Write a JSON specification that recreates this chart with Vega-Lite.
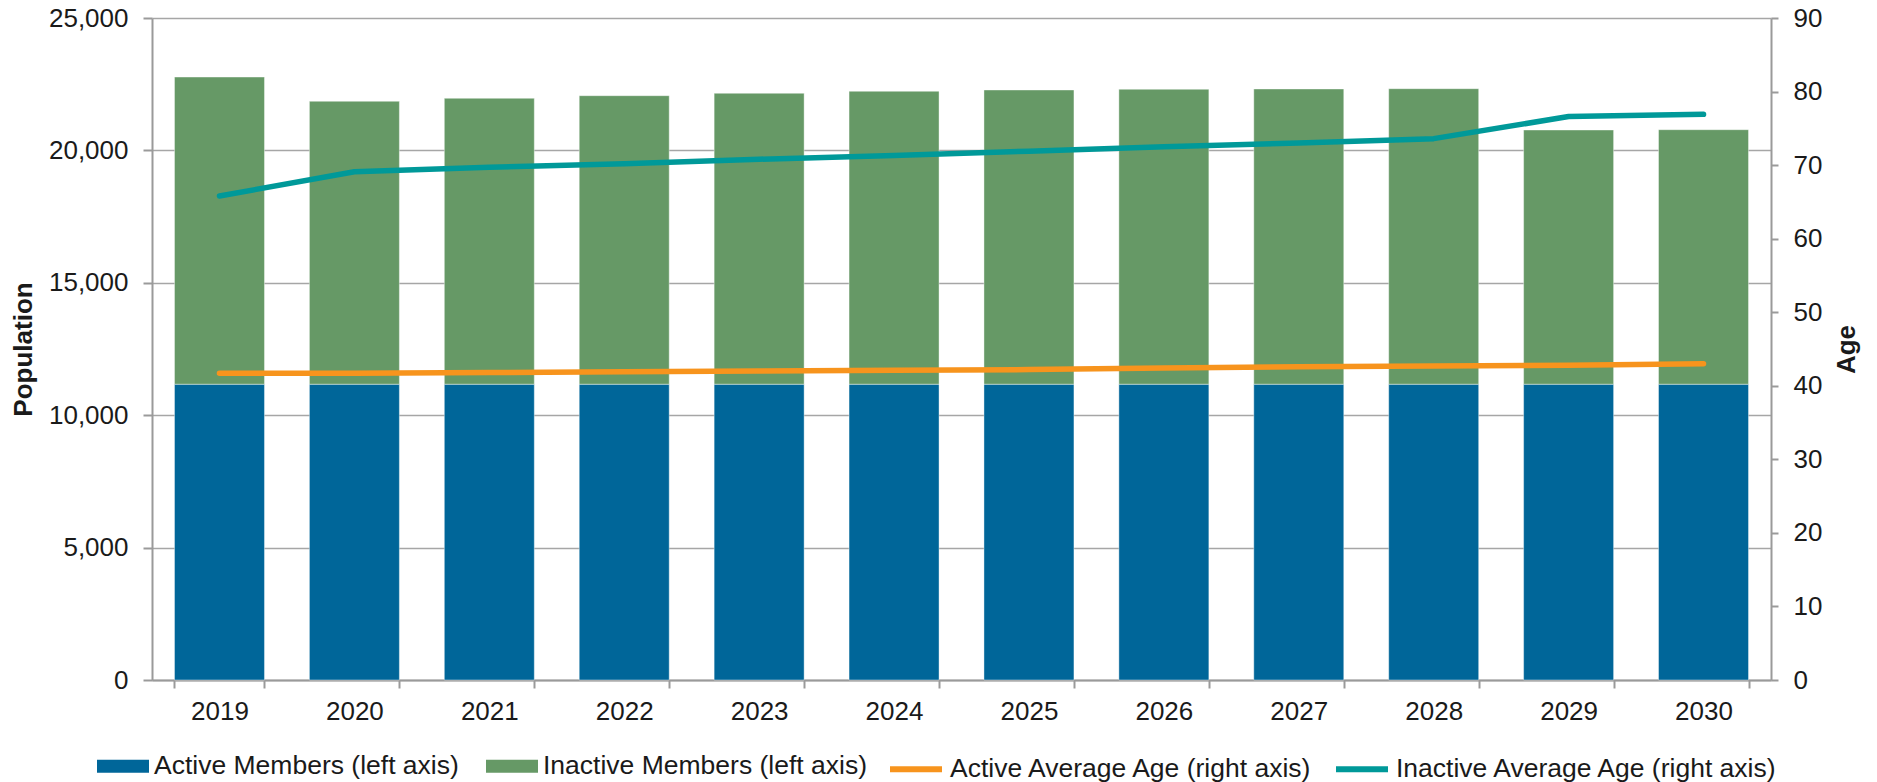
{
  "$schema": "https://vega.github.io/schema/vega-lite/v6.json",
  "width": 1619,
  "height": 662,
  "autosize": {"type": "none"},
  "padding": {"left": 152, "top": 18, "right": 106, "bottom": 102},
  "background": "white",
  "config": {
    "view": {"stroke": null},
    "font": "Liberation Sans",
    "axis": {
      "labelFont": "Liberation Sans",
      "titleFont": "Liberation Sans",
      "labelFontSize": 26,
      "titleFontSize": 26,
      "labelColor": "#1a1a1a",
      "titleColor": "#1a1a1a",
      "domainColor": "#9a9a9a",
      "domainWidth": 2,
      "tickColor": "#9a9a9a",
      "tickWidth": 2
    }
  },
  "datasets": {
    "bars": [
      {"year": "2019", "series": "Active Members (left axis)", "population": 11170},
      {"year": "2020", "series": "Active Members (left axis)", "population": 11170},
      {"year": "2021", "series": "Active Members (left axis)", "population": 11170},
      {"year": "2022", "series": "Active Members (left axis)", "population": 11170},
      {"year": "2023", "series": "Active Members (left axis)", "population": 11170},
      {"year": "2024", "series": "Active Members (left axis)", "population": 11170},
      {"year": "2025", "series": "Active Members (left axis)", "population": 11170},
      {"year": "2026", "series": "Active Members (left axis)", "population": 11170},
      {"year": "2027", "series": "Active Members (left axis)", "population": 11170},
      {"year": "2028", "series": "Active Members (left axis)", "population": 11170},
      {"year": "2029", "series": "Active Members (left axis)", "population": 11170},
      {"year": "2030", "series": "Active Members (left axis)", "population": 11170},
      {"year": "2019", "series": "Inactive Members (left axis)", "population": 11600},
      {"year": "2020", "series": "Inactive Members (left axis)", "population": 10684},
      {"year": "2021", "series": "Inactive Members (left axis)", "population": 10797},
      {"year": "2022", "series": "Inactive Members (left axis)", "population": 10896},
      {"year": "2023", "series": "Inactive Members (left axis)", "population": 10986},
      {"year": "2024", "series": "Inactive Members (left axis)", "population": 11062},
      {"year": "2025", "series": "Inactive Members (left axis)", "population": 11111},
      {"year": "2026", "series": "Inactive Members (left axis)", "population": 11137},
      {"year": "2027", "series": "Inactive Members (left axis)", "population": 11149},
      {"year": "2028", "series": "Inactive Members (left axis)", "population": 11160},
      {"year": "2029", "series": "Inactive Members (left axis)", "population": 9600},
      {"year": "2030", "series": "Inactive Members (left axis)", "population": 9612}
    ],
    "lines": [
      {"year": "2019", "series": "Active Average Age (right axis)", "age": 41.7},
      {"year": "2020", "series": "Active Average Age (right axis)", "age": 41.7},
      {"year": "2021", "series": "Active Average Age (right axis)", "age": 41.8},
      {"year": "2022", "series": "Active Average Age (right axis)", "age": 41.9},
      {"year": "2023", "series": "Active Average Age (right axis)", "age": 42.0},
      {"year": "2024", "series": "Active Average Age (right axis)", "age": 42.1},
      {"year": "2025", "series": "Active Average Age (right axis)", "age": 42.2},
      {"year": "2026", "series": "Active Average Age (right axis)", "age": 42.4},
      {"year": "2027", "series": "Active Average Age (right axis)", "age": 42.6},
      {"year": "2028", "series": "Active Average Age (right axis)", "age": 42.7},
      {"year": "2029", "series": "Active Average Age (right axis)", "age": 42.8},
      {"year": "2030", "series": "Active Average Age (right axis)", "age": 43.0},
      {"year": "2019", "series": "Inactive Average Age (right axis)", "age": 65.8},
      {"year": "2020", "series": "Inactive Average Age (right axis)", "age": 69.1},
      {"year": "2021", "series": "Inactive Average Age (right axis)", "age": 69.7},
      {"year": "2022", "series": "Inactive Average Age (right axis)", "age": 70.2},
      {"year": "2023", "series": "Inactive Average Age (right axis)", "age": 70.8},
      {"year": "2024", "series": "Inactive Average Age (right axis)", "age": 71.3},
      {"year": "2025", "series": "Inactive Average Age (right axis)", "age": 71.9},
      {"year": "2026", "series": "Inactive Average Age (right axis)", "age": 72.5},
      {"year": "2027", "series": "Inactive Average Age (right axis)", "age": 73.0},
      {"year": "2028", "series": "Inactive Average Age (right axis)", "age": 73.6},
      {"year": "2029", "series": "Inactive Average Age (right axis)", "age": 76.6},
      {"year": "2030", "series": "Inactive Average Age (right axis)", "age": 76.9}
    ]
  },
  "layer": [
    {
      "data": {"name": "bars"},
      "mark": {"type": "bar", "stroke": "#ffffff", "strokeWidth": 0.8, "strokeOpacity": 0.5},
      "encoding": {
        "x": {
          "field": "year",
          "type": "ordinal",
          "scale": {"paddingInner": 0.333, "paddingOuter": 0.1667},
          "axis": {
            "title": null,
            "labelAngle": 0,
            "tickBand": "extent",
            "tickSize": 8,
            "labelPadding": 10
          }
        },
        "y": {
          "field": "population",
          "type": "quantitative",
          "stack": "zero",
          "scale": {"domain": [0, 25000], "nice": false},
          "axis": {
            "orient": "left",
            "values": [0, 5000, 10000, 15000, 20000, 25000],
            "format": ",d",
            "grid": true,
            "gridColor": "#a6a6a6",
            "gridWidth": 1.5,
            "tickSize": 9,
            "labelPadding": 15,
            "title": "Population",
            "titleFontWeight": "bold",
            "titleAngle": 270,
            "titleX": -129,
            "titleY": 331,
            "titleAlign": "center",
            "titleBaseline": "middle"
          }
        },
        "order": {"field": "series", "type": "nominal", "sort": "ascending"},
        "fill": {
          "field": "series",
          "type": "nominal",
          "scale": {
            "domain": ["Active Members (left axis)", "Inactive Members (left axis)"],
            "range": ["#006699", "#669966"]
          },
          "legend": {
            "orient": "none",
            "legendX": -55,
            "legendY": 722,
            "direction": "horizontal",
            "title": null,
            "symbolType": "M-1,-0.25H1V0.25H-1Z",
            "symbolSize": 2704,
            "symbolStrokeWidth": 0,
            "symbolOpacity": 1,
            "labelFont": "Liberation Sans",
            "labelFontSize": 26.5,
            "labelColor": "#1a1a1a",
            "labelOffset": 5,
            "labelLimit": 700,
            "columnPadding": 27,
            "padding": 0
          }
        }
      }
    },
    {
      "data": {"name": "lines"},
      "mark": {"type": "line", "strokeWidth": 5.5, "strokeCap": "round", "strokeJoin": "round"},
      "encoding": {
        "x": {"field": "year", "type": "ordinal"},
        "y": {
          "field": "age",
          "type": "quantitative",
          "scale": {"domain": [0, 90], "nice": false},
          "axis": {
            "orient": "right",
            "values": [0, 10, 20, 30, 40, 50, 60, 70, 80, 90],
            "grid": false,
            "tickSize": 7,
            "labelPadding": 15,
            "title": "Age",
            "titleFontWeight": "bold",
            "titleAngle": 270,
            "titleX": 75,
            "titleY": 331,
            "titleAlign": "center",
            "titleBaseline": "middle"
          }
        },
        "stroke": {
          "field": "series",
          "type": "nominal",
          "scale": {
            "domain": ["Active Average Age (right axis)", "Inactive Average Age (right axis)"],
            "range": ["#F7941D", "#009999"]
          },
          "legend": {
            "orient": "none",
            "legendX": 735,
            "legendY": 722,
            "direction": "horizontal",
            "title": null,
            "symbolType": "stroke",
            "symbolSize": 2704,
            "symbolStrokeWidth": 6,
            "labelFont": "Liberation Sans",
            "labelFontSize": 26.5,
            "labelColor": "#1a1a1a",
            "labelOffset": 5,
            "labelLimit": 700,
            "columnPadding": 10,
            "padding": 0
          }
        }
      }
    }
  ],
  "resolve": {"scale": {"y": "independent"}}
}
